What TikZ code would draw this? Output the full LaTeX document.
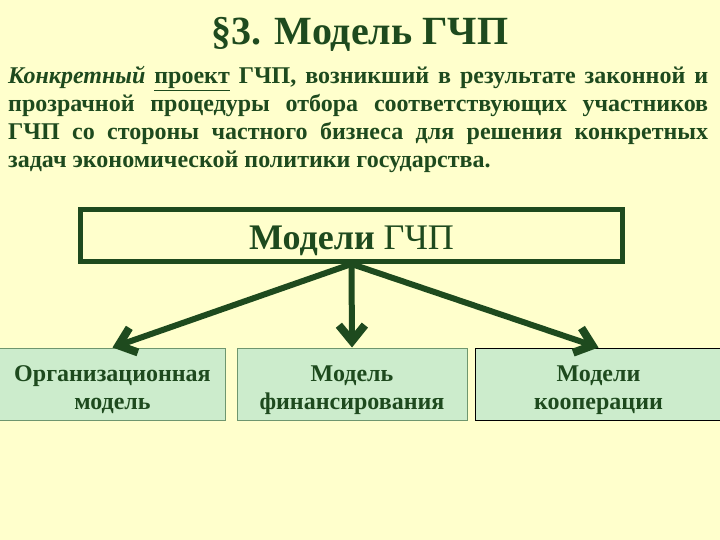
\documentclass[tikz,border=0pt]{standalone}
\usepackage{fontspec}
\setmainfont{Liberation Serif}
\usetikzlibrary{arrows.meta}
\definecolor{bgyellow}{RGB}{255,255,204}
\definecolor{darkgreen}{RGB}{30,74,30}
\definecolor{boxgreen}{RGB}{204,236,204}
\definecolor{edgegreen}{RGB}{110,150,110}
\newcommand{\lowstrut}{\rule{0pt}{28pt}}
\tikzset{
  modelbox/.style={draw=edgegreen,line width=1pt,fill=boxgreen,text=darkgreen,
    minimum width=226pt,minimum height=72pt,align=center,
    font=\fontsize{24}{28}\selectfont\bfseries},
  bigarrow/.style={draw=darkgreen,line width=6pt,
    -{Straight Barb[length=16pt,width=26pt,line width=8pt]}}
}
\begin{document}
\begin{tikzpicture}[x=1pt,y=-1pt]
  \useasboundingbox (0,0) rectangle (720,540);
  \fill[bgyellow] (0,0) rectangle (720,540);
  \node[text=darkgreen,font=\fontsize{40}{44}\selectfont\bfseries] (title) at (360,34) {\S3. Модель ГЧП};
  \node[text=darkgreen,text width=700pt,align=justify,inner sep=0pt,anchor=north west,
    font=\fontsize{24}{28}\selectfont\bfseries] (def) at (8,66)
    {\textit{Конкретный} \underline{проект} ГЧП, возникший в результате законной и\linebreak
     прозрачной процедуры отбора соответствующих участников\linebreak
     ГЧП со стороны частного бизнеса для решения конкретных\linebreak
     задач экономической политики государства.};
  \node[draw=darkgreen,line width=5pt,minimum width=542pt,minimum height=52pt,text=darkgreen,
    text height=30pt,text depth=3pt,
    font=\fontsize{36}{40}\selectfont] (models) at (351.5,235.5) {\textbf{Модели} ГЧП};
  \node[modelbox] (org) at (112.5,384) {\lowstrut Организационная\\модель};
  \node[modelbox,minimum width=230pt] (fin) at (352,384) {\lowstrut Модель\\финансирования};
  \node[modelbox,draw=black,minimum width=247pt] (coop) at (598.5,384) {\lowstrut Модели\\кооперации};
  \draw[bigarrow] (models.south) -- (org.north);
  \draw[bigarrow] (models.south) -- (fin.north);
  \draw[bigarrow] (models.south) -- (coop.north);
\end{tikzpicture}
\end{document}
